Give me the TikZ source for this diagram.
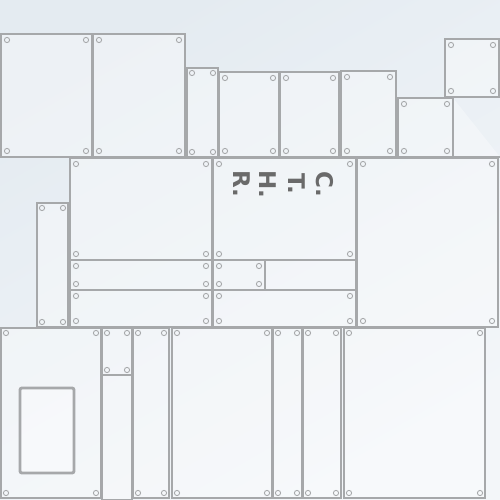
\documentclass[tikz,border=0pt]{standalone}
\usepackage{fontspec}
\setsansfont{DejaVu Sans}
\definecolor{bgA}{HTML}{E4EBF1}
\definecolor{bgB}{HTML}{F3F6F9}
\definecolor{frame}{HTML}{A6A8AA}
\definecolor{screwc}{HTML}{A8AAAC}
\definecolor{letter}{HTML}{6A6A6A}
\tikzset{
  panel/.style={draw=frame, line width=2.9pt, fill=white, fill opacity=0.35, draw opacity=1},
  screw/.style={draw=screwc, line width=0.9pt},
  letterstyle/.style={text=letter, font=\sffamily\bfseries\fontsize{23}{23}\selectfont, rotate=-90, inner sep=0pt}
}
\newcommand\gpanel[5][6]{%
  \draw[panel] (#2,#3) rectangle (#4,#5);
  \draw[screw] (#2,#3) ++(#1,#1) circle[radius=2.6];
  \draw[screw] (#4,#3) ++(-#1,#1) circle[radius=2.6];
  \draw[screw] (#2,#5) ++(#1,-#1) circle[radius=2.6];
  \draw[screw] (#4,#5) ++(-#1,-#1) circle[radius=2.6];
}
\begin{document}
\begin{tikzpicture}[x=1pt,y=-1pt]
\useasboundingbox (0,0) rectangle (500,500);
\shade[left color=bgA, right color=bgB, shading angle=30] (0,0) rectangle (500,500);
% top row
\gpanel{1}{34}{92}{157}
\gpanel{93}{34}{185}{157}
\gpanel[5]{187}{68}{218}{157}
\gpanel{219}{72}{279}{157}
\gpanel{280}{72}{339}{157}
\gpanel{341}{71}{396}{157}
\gpanel{398}{98}{453}{157}
\gpanel{445}{39}{499}{97}
\draw[panel] (453,98) -- (453,157) -- (500,157);
% middle row
\gpanel[5]{37}{203}{68}{327}
\gpanel{70}{158}{212}{260}
\gpanel{70}{260}{212}{290}
\gpanel{70}{290}{212}{327}
\gpanel{213}{158}{356}{260}
\draw[panel] (265,260) rectangle (356,290);
\gpanel{213}{260}{265}{290}
\gpanel{213}{290}{356}{327}
\gpanel{357}{158}{498}{327}
% bottom row
\gpanel[5]{1}{328}{101}{498}
\draw[panel, rounded corners=2pt] (20,388) rectangle (74,473);
\draw[panel] (102,375) rectangle (132,500);
\gpanel[5]{102}{328}{132}{375}
\gpanel[5]{133}{328}{169}{498}
\gpanel[5]{172}{328}{272}{498}
\gpanel[5]{273}{328}{302}{498}
\gpanel[5]{303}{328}{341}{498}
\gpanel[5]{344}{328}{485}{498}
% letters
\node[letterstyle] (l1) at (242,184) {R.};
\node[letterstyle] (l2) at (268,184) {H.};
\node[letterstyle] (l3) at (297,184) {T.};
\node[letterstyle] (l4) at (325,184) {C.};
\end{tikzpicture}
\end{document}
